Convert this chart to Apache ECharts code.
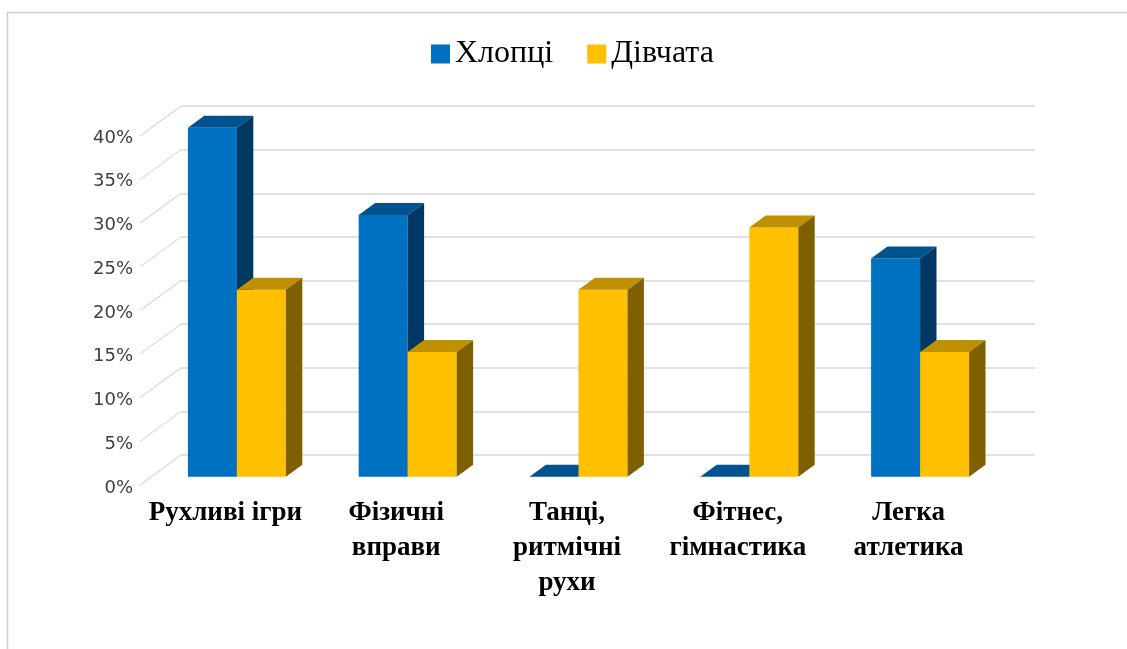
<!DOCTYPE html>
<html><head><meta charset="utf-8">
<script src="https://cdn.jsdelivr.net/npm/echarts@6/dist/echarts.min.js"></script>
<style>html,body{margin:0;padding:0;background:#fff}#c{width:1127px;height:649px}</style>
</head><body><div id="c"></div>
<script>
const categories = ['Рухливі ігри', 'Фізичні\nвправи', 'Танці,\nритмічні\nрухи', 'Фітнес,\nгімнастика', 'Легка\nатлетика'];
const seriesNames = ['Хлопці', 'Дівчата'];
const boys = [40, 30, 0, 0, 25];
const girls = [21.43, 14.29, 21.43, 28.57, 14.29];
const yTicks = [0, 5, 10, 15, 20, 25, 30, 35, 40];

const FRONT = ['#0070C0', '#FFC000'];
const TOP = ['#00538F', '#BF9000'];
const SIDE = ['#003864', '#7F6000'];
const BAR_DX = 16.4, BAR_DY = -12;
const WALL_DX = 41, WALL_DY = -30;
const BAR_W = 49;

function barRender(si) {
  return function (params, api) {
    const i = api.value(0), v = api.value(1);
    const c = api.coord([i, 0]);
    const top = api.coord([i, v]);
    const x0 = si === 0 ? c[0] - BAR_W : c[0];
    const x1 = x0 + BAR_W;
    const yb = c[1], yt = top[1];
    const children = [];
    children.push({type: 'polygon', shape: {points: [[x0, yt], [x1, yt], [x1, yb], [x0, yb]]}, style: {fill: FRONT[si]}});
    children.push({type: 'polygon', shape: {points: [[x0, yt], [x1, yt], [x1 + BAR_DX, yt + BAR_DY], [x0 + BAR_DX, yt + BAR_DY]]}, style: {fill: TOP[si]}});
    if (yb - yt > 0.5) {
      children.push({type: 'polygon', shape: {points: [[x1, yt], [x1 + BAR_DX, yt + BAR_DY], [x1 + BAR_DX, yb + BAR_DY], [x1, yb]]}, style: {fill: SIDE[si]}});
    }
    return {type: 'group', children: children};
  };
}

const chart = echarts.init(document.getElementById('c'), null, {renderer: 'canvas'});
const yBase = {type: 'value', min: 0, max: 40, interval: 5};
chart.setOption({
  animation: false,
  backgroundColor: '#fff',
  graphic: [{type: 'rect', shape: {x: 7.5, y: 12.5, width: 1300, height: 800}, style: {fill: 'none', stroke: '#cfcfcf', lineWidth: 1.5}, z: -10}],
  legend: {
    data: seriesNames, left: 426, top: 33, icon: 'rect', itemWidth: 19, itemHeight: 19, itemGap: 34,
    textStyle: {fontFamily: 'Liberation Serif', fontSize: 32, color: '#000', lineHeight: 30}
  },
  grid: [
    {left: 140, right: 133, top: 138, bottom: 161},      // front plane (labels)
    {left: 181, right: 92, top: 106, bottom: 194},       // back wall
    {left: 151.5, right: 121.5, top: 127.7, bottom: 172.3} // bar front plane
  ],
  xAxis: [
    {gridIndex: 0, type: 'category', data: categories, axisLine: {show: false}, axisTick: {show: false},
     axisLabel: {interval: 0, margin: 8, color: '#000', fontFamily: 'Liberation Serif', fontWeight: 'bold', fontSize: 27, lineHeight: 35}},
    {gridIndex: 1, type: 'value', min: 0, max: 1, show: false},
    {gridIndex: 2, type: 'category', data: categories, show: false}
  ],
  yAxis: [
    Object.assign({gridIndex: 0, axisLine: {show: false}, axisTick: {show: false}, splitLine: {show: false},
     axisLabel: {formatter: '{value}%', margin: 7, color: '#404040', fontFamily: 'DejaVu Sans', fontSize: 18}}, yBase),
    Object.assign({gridIndex: 1, axisLine: {show: false}, axisTick: {show: false}, axisLabel: {show: false},
     splitLine: {show: true, lineStyle: {color: '#d9d9d9', width: 1.5}}}, yBase),
    Object.assign({gridIndex: 2, show: false, splitLine: {show: false}}, yBase)
  ],
  series: [
    {type: 'custom', name: 'wall', xAxisIndex: 1, yAxisIndex: 1, z: 1, silent: true,
     data: yTicks.map(t => [0, t]),
     renderItem: function (params, api) {
       const p = api.coord([0, api.value(1)]);
       return {type: 'line', shape: {x1: p[0] - WALL_DX, y1: p[1] - WALL_DY, x2: p[0], y2: p[1]}, style: {stroke: '#d9d9d9', lineWidth: 1.2}};
     }},
    {type: 'custom', name: seriesNames[0], xAxisIndex: 2, yAxisIndex: 2, z: 5, itemStyle: {color: FRONT[0]},
     data: boys.map((v, i) => [i, v]), renderItem: barRender(0)},
    {type: 'custom', name: seriesNames[1], xAxisIndex: 2, yAxisIndex: 2, z: 6, itemStyle: {color: FRONT[1]},
     data: girls.map((v, i) => [i, v]), renderItem: barRender(1)}
  ]
});
</script></body></html>
